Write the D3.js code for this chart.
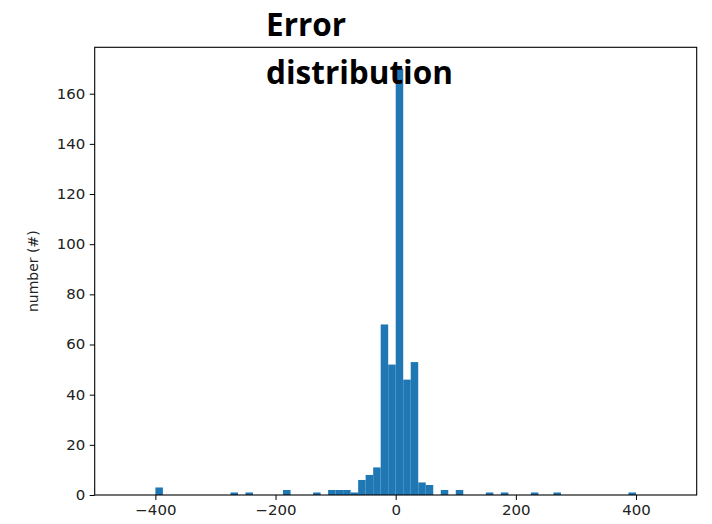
<!DOCTYPE html>
<html>
<head>
<meta charset="utf-8">
<script src="https://cdn.jsdelivr.net/npm/d3@7"></script>
<style>
  html, body { margin: 0; padding: 0; background: #fff; }
  svg { display: block; }
</style>
</head>
<body>
<svg id="chart" width="712" height="524"></svg>
<script>
// ---- data ----
const binLeft = [-400, -275, -250, -187.5, -137.5, -112.5, -100, -87.5, -75, -62.5, -50, -37.5, -25, -12.5, 0, 12.5, 25, 37.5, 50, 75, 100, 150, 175, 225, 262.5, 387.5];
const counts  = [3,    1,    1,    2,      1,      2,      2,    2,     1,   6,     8,   11,    68,  52,    170, 46,  53, 5,    4,  2,  2,   1,   1,   1,   1,     1];
const binWidth = 12.5;
const xTicks = [-400, -200, 0, 200, 400];
const yTicks = [0, 20, 40, 60, 80, 100, 120, 140, 160];
const titleLines = ["Error", "distribution"];
const yLabel = "number (#)";

// ---- layout ----
const svg = d3.select("#chart");
const L = 94.7, R = 696.7, T = 47.3, B = 495;

const x = d3.scaleLinear().domain([-501, 501]).range([L, R]);
const y = d3.scaleLinear().domain([0, d3.max(counts) * 1.05]).range([B, T]);

const data = binLeft.map((b, i) => ({ x0: b, x1: b + binWidth, n: counts[i] }));

svg.append("g").selectAll("rect").data(data).join("rect")
  .attr("x", d => x(d.x0))
  .attr("width", d => x(d.x1) - x(d.x0))
  .attr("y", d => y(d.n))
  .attr("height", d => y(0) - y(d.n))
  .attr("fill", "#1f77b4");

// frame
svg.append("rect")
  .attr("x", L).attr("y", T).attr("width", R - L).attr("height", B - T)
  .attr("fill", "none").attr("stroke", "#000").attr("stroke-width", 1.1);

const fontAxis = "DejaVu Sans, sans-serif";

const xAxis = svg.append("g").attr("transform", `translate(0,${B})`)
  .call(d3.axisBottom(x).tickValues(xTicks).tickSize(5).tickPadding(5)
    .tickFormat(d => d < 0 ? "\u2212" + Math.abs(d) : d));
const yAxis = svg.append("g").attr("transform", `translate(${L},0)`)
  .call(d3.axisLeft(y).tickValues(yTicks).tickSize(5).tickPadding(5));

[xAxis, yAxis].forEach(g => {
  g.select(".domain").remove();
  g.selectAll("line").attr("stroke", "#000").attr("stroke-width", 1);
  g.selectAll("text").attr("fill", "#222").style("font-family", fontAxis).style("font-size", "14px")
    .attr("transform", "scale(1.07,1)");
});
yAxis.selectAll("text").attr("x", -9.5 / 1.07);

svg.append("text")
  .attr("transform", `translate(38,${(T + B) / 2}) rotate(-90)`)
  .attr("text-anchor", "middle")
  .style("font-family", fontAxis).style("font-size", "14px")
  .attr("fill", "#222")
  .text(yLabel);

// title
const title = svg.append("text")
  .style("font-family", "'Open Sans', 'Noto Sans', sans-serif")
  .style("font-weight", "bold")
  .style("font-size", "31.5px")
  .attr("fill", "#000");
titleLines.forEach((t, i) => {
  title.append("tspan").attr("x", 266).attr("y", 35.5 + i * 48).text(t);
});
</script>
</body>
</html>
